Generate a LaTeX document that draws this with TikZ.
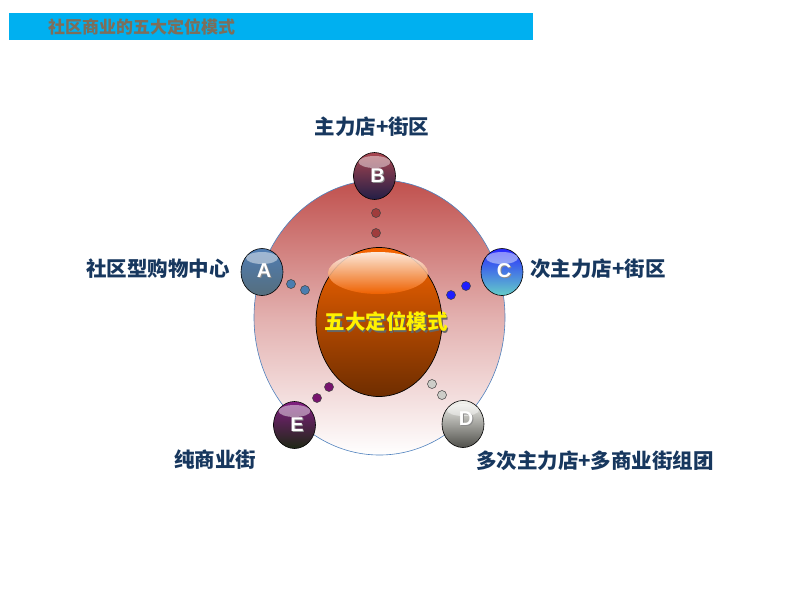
\documentclass[tikz,border=0pt]{standalone}
\usepackage{fontspec}
\setmainfont{Noto Sans CJK SC}
\newfontfamily\latinbold{Liberation Sans}
\usetikzlibrary{shapes.geometric}
\definecolor{titlebar}{RGB}{0,176,240}
\definecolor{titletext}{RGB}{125,110,90}
\definecolor{labelnavy}{RGB}{23,55,94}
\definecolor{ringtop}{RGB}{192,80,77}
\definecolor{ringedge}{RGB}{79,129,189}
\definecolor{coretop}{RGB}{245,100,0}
\definecolor{corebot}{RGB}{110,45,0}
\tikzset{
  ball/.style={ellipse, draw=black, line width=0.6pt, minimum width=42pt, minimum height=47pt, inner sep=0pt},
  gloss/.style={ellipse, minimum width=32pt, minimum height=12pt, inner sep=0pt, top color=white, bottom color=white, opacity=0.45},
  dot/.style={circle, draw=black!75, line width=0.5pt, minimum size=9pt, inner sep=0pt},
  lbl/.style={text=labelnavy, font=\bfseries\fontsize{20.5}{20.5}\selectfont, inner sep=0pt},
  letter/.style={text=white, font=\latinbold\bfseries\fontsize{20}{20}\selectfont, inner sep=0pt},
  lettersh/.style={text=black!45, font=\latinbold\bfseries\fontsize{20}{20}\selectfont, inner sep=0pt}
}
\begin{document}
\begin{tikzpicture}[x=1pt,y=-1pt]
\useasboundingbox (0,0) rectangle (800,600);
% title bar
\node[rectangle, fill=titlebar, minimum width=524pt, minimum height=27pt, inner sep=0pt, anchor=north west] (bar) at (9,13) {};
\node[text=titletext, font=\bfseries\fontsize{17}{17}\selectfont, anchor=west, inner sep=0pt] (title) at (48,27) {社区商业的五大定位模式};
% big ring
\node[ellipse, draw=ringedge, line width=0.6pt, top color=ringtop, bottom color=white, middle color=ringtop!45!white, minimum width=251pt, minimum height=275pt] (ring) at (379.5,317.5) {};
% core
\node[ellipse, draw=black, line width=0.7pt, top color=coretop, bottom color=corebot, minimum width=126pt, minimum height=149pt] (core) at (379,322) {};
\node[ellipse, minimum width=100pt, minimum height=42pt, top color=white, bottom color=coretop, opacity=0.85] (coregloss) at (378,273) {};
\node[text=black!60, font=\bfseries\fontsize{20.5}{20.5}\selectfont] (coretxtsh) at (387.5,323.5) {五大定位模式};
\node[text=yellow, font=\bfseries\fontsize{20.5}{20.5}\selectfont] (coretxt) at (386,322) {五大定位模式};
% balls
\node[ball, top color={rgb,255:red,170;green,70;blue,80}, bottom color={rgb,255:red,35;green,30;blue,70}] (B) at (374.5,176) {};
\node[ball, top color={rgb,255:red,80;green,125;blue,180}, bottom color={rgb,255:red,85;green,110;blue,125}] (A) at (262,272) {};
\node[ball, top color={rgb,255:red,40;green,40;blue,255}, bottom color={rgb,255:red,100;green,205;blue,200}] (C) at (502,272) {};
\node[ball, top color={rgb,255:red,245;green,245;blue,240}, bottom color={rgb,255:red,80;green,80;blue,75}] (D) at (463,424) {};
\node[ball, top color={rgb,255:red,130;green,30;blue,130}, bottom color={rgb,255:red,30;green,40;blue,20}] (E) at (294.5,425) {};
\foreach \n in {A,B,C,D,E}{
  \node[gloss] (\n g) at ([yshift=14pt]\n.center) {};
}
\node[lettersh] (Bs) at (378.5,177) {B};
\node[letter] (Bt) at (377.5,176) {B};
\node[lettersh] (As) at (265,272) {A};
\node[letter] (At) at (264,271) {A};
\node[lettersh] (Cs) at (505,272) {C};
\node[letter] (Ct) at (504,271) {C};
\node[lettersh] (Ds) at (467,420) {D};
\node[letter] (Dt) at (466,419) {D};
\node[lettersh] (Es) at (298,426) {E};
\node[letter] (Et) at (297,425) {E};
% dots
\tikzset{dotB/.style={dot, fill={rgb,255:red,160;green,60;blue,60}},
         dotA/.style={dot, fill={rgb,255:red,75;green,125;blue,175}},
         dotC/.style={dot, fill={rgb,255:red,30;green,30;blue,255}},
         dotE/.style={dot, fill={rgb,255:red,120;green,20;blue,110}},
         dotD/.style={dot, fill={rgb,255:red,205;green,205;blue,200}}}
\node[dotB] (b1) at (376,213) {};
\node[dotB] (b2) at (376,233) {};
\node[dotA] (a1) at (291,284) {};
\node[dotA] (a2) at (305,290) {};
\node[dotC] (c1) at (466,286) {};
\node[dotC] (c2) at (451,295) {};
\node[dotE] (e1) at (329,387) {};
\node[dotE] (e2) at (317,398) {};
\node[dotD] (d1) at (432,384) {};
\node[dotD] (d2) at (442,395) {};
% labels
\node[lbl] (LB) at (372,127) {主力店+街区};
\node[lbl] (LA) at (158,269) {社区型购物中心};
\node[lbl] (LC) at (598,269) {次主力店+街区};
\node[lbl] (LE) at (215,460) {纯商业街};
\node[lbl] (LD) at (595,461) {多次主力店+多商业街组团};
\end{tikzpicture}
\end{document}
